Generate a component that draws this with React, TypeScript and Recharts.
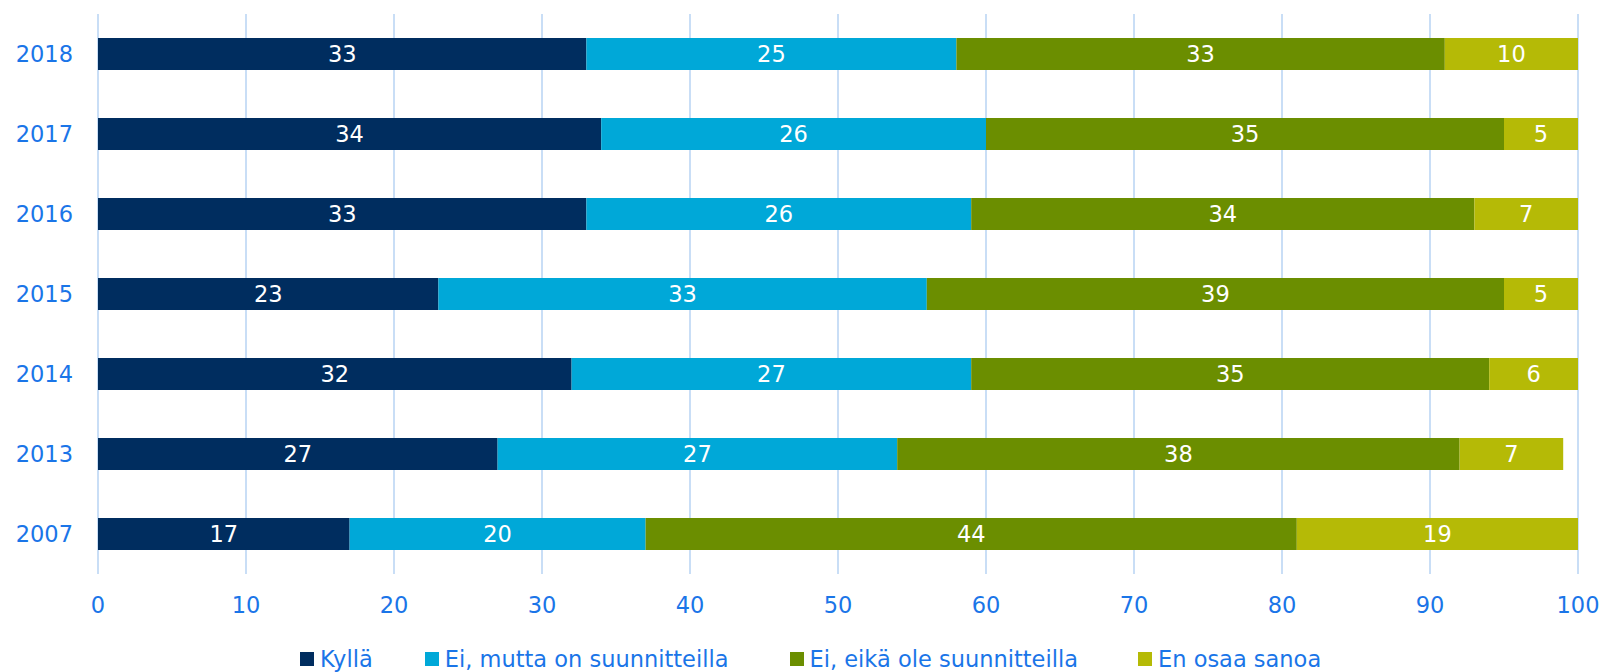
import { BarChart, Bar, XAxis, YAxis, CartesianGrid, LabelList } from 'recharts';

const years = ['2018', '2017', '2016', '2015', '2014', '2013', '2007'];
const kylla = [33, 34, 33, 23, 32, 27, 17];
const suunnitteilla = [25, 26, 26, 33, 27, 27, 20];
const eiSuunnitteilla = [33, 35, 34, 39, 35, 38, 44];
const enOsaa = [10, 5, 7, 5, 6, 7, 19];
const xTicks = [0, 10, 20, 30, 40, 50, 60, 70, 80, 90, 100];

const series = [
  { key: 'kylla', name: 'Kyllä', color: '#002d5f' },
  { key: 'suunnitteilla', name: 'Ei, mutta on suunnitteilla', color: '#00a8d8' },
  { key: 'eiSuunnitteilla', name: 'Ei, eikä ole suunnitteilla', color: '#6b8e00' },
  { key: 'enOsaa', name: 'En osaa sanoa', color: '#b5ba06' },
];

// spacing after each legend entry
const legendGaps = [52, 61, 60, 0];

const FONT = 'Verdana, "DejaVu Sans", sans-serif';
const BLUE = '#1a75e8';

export default function App() {
  // one row per year for the stacked bars
  const data = years.map((year, i) => ({
    year,
    kylla: kylla[i],
    suunnitteilla: suunnitteilla[i],
    eiSuunnitteilla: eiSuunnitteilla[i],
    enOsaa: enOsaa[i],
  }));

  return (
    <div style={{ position: 'relative', width: 1603, height: 672, fontFamily: FONT, overflow: 'hidden' }}>
      <style>{'body { margin: 0; overflow: hidden; }'}</style>
      <BarChart
        width={1603}
        height={672}
        data={data}
        layout="vertical"
        margin={{ top: 14, right: 25, left: 0, bottom: 64 }}
      >
        <CartesianGrid horizontal={false} stroke="#c9def6" strokeWidth={2} />
        <XAxis
          type="number"
          domain={[0, 100]}
          ticks={xTicks}
          allowDataOverflow
          axisLine={false}
          tickLine={false}
          tickSize={6}
          tickMargin={17}
          height={34}
          interval={0}
          tick={{ fill: BLUE, fontSize: 22.5, fontFamily: FONT }}
        />
        <YAxis
          type="category"
          dataKey="year"
          width={98}
          axisLine={false}
          tickLine={false}
          tickSize={6}
          tickMargin={19}
          tick={{ fill: BLUE, fontSize: 22.5, fontFamily: FONT }}
        />
        {series.map(s => (
          <Bar
            key={s.key}
            dataKey={s.key}
            name={s.name}
            stackId="a"
            fill={s.color}
            barSize={32}
            isAnimationActive={false}
          >
            <LabelList
              dataKey={s.key}
              position="center"
              fill="#ffffff"
              style={{ fontSize: 22.5, fontFamily: FONT }}
            />
          </Bar>
        ))}
      </BarChart>
      <div
        style={{
          position: 'absolute',
          left: 300,
          top: 644,
          height: 30,
          display: 'flex',
          alignItems: 'center',
          color: BLUE,
          fontSize: 22.5,
          whiteSpace: 'nowrap',
        }}
      >
        {series.map((s, i) => (
          <div key={s.key} style={{ display: 'flex', alignItems: 'center', marginRight: legendGaps[i] }}>
            <span style={{ width: 14, height: 14, background: s.color, marginRight: 6, display: 'inline-block' }} />
            <span>{s.name}</span>
          </div>
        ))}
      </div>
    </div>
  );
}
